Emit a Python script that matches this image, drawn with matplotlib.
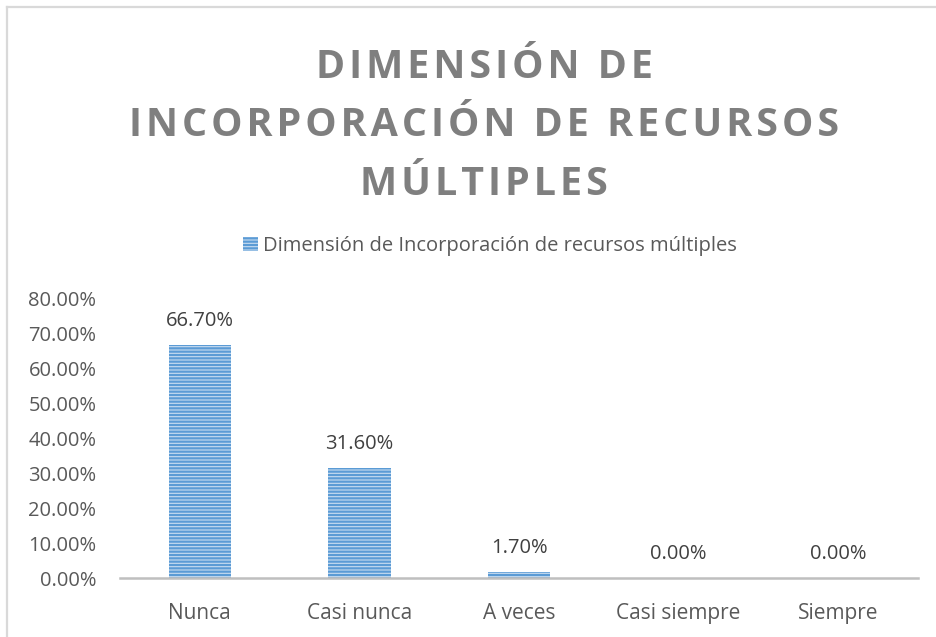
import matplotlib.pyplot as plt
from matplotlib.patches import Patch
from matplotlib.lines import Line2D

plt.rcParams['font.family'] = ['Open Sans', 'DejaVu Sans']
plt.rcParams['hatch.linewidth'] = 1.6

categorias = ["Nunca", "Casi nunca", "A veces", "Casi siempre", "Siempre"]
porcentajes = [66.7, 31.6, 1.7, 0.0, 0.0]
yticks = [0, 10, 20, 30, 40, 50, 60, 70, 80]
titulo = ["DIMENSIÓN DE", "INCORPORACIÓN DE RECURSOS", "MÚLTIPLES"]
serie = "Dimensión de Incorporación de recursos múltiples"

azul = "#5B9BD5"
relleno = "#C9DDF1"
gris_txt = "#595959"

fig = plt.figure(figsize=(9.36, 6.37), dpi=100)
ax = fig.add_axes([120 / 936, 1 - 578 / 637, 798 / 936, 279 / 637])

x = range(len(categorias))
bars = ax.bar(x, porcentajes, width=0.39, color=relleno, edgecolor=azul,
              linewidth=0, hatch="-----")
ax.bar_label(bars, labels=[f"{v:.2f}%" for v in porcentajes], padding=10,
             fontsize=14.5, color="#404040")

ax.set_xlim(-0.5, len(categorias) - 0.5)
ax.set_ylim(0, 80)
ax.set_yticks(yticks)
ax.set_yticklabels([f"{v:.2f}%" for v in yticks])
ax.set_xticks(list(x))
ax.set_xticklabels(categorias, fontsize=15)
ax.tick_params(axis="both", length=0, colors=gris_txt)
ax.tick_params(axis="y", pad=17, labelsize=14.5)
ax.tick_params(axis="x", pad=18)
for s in ["top", "right", "left"]:
    ax.spines[s].set_visible(False)
ax.spines["bottom"].set_color("#BFBFBF")
ax.spines["bottom"].set_linewidth(1.8)

# borde del area del grafico (solo arriba e izquierda visibles)
fig.add_artist(Line2D([7 / 936, 7 / 936], [0, 1 - 7 / 637], color="#D9D9D9",
                      lw=1.6, transform=fig.transFigure))
fig.add_artist(Line2D([7 / 936, 1], [1 - 7 / 637, 1 - 7 / 637], color="#D9D9D9",
                      lw=1.6, transform=fig.transFigure))

# titulo con espaciado entre letras
texto = "\n".join("\u200a".join(l) for l in titulo)
t = fig.text(484 / 936, 1 - 126 / 637, texto, ha="center", va="center",
             multialignment="center", fontsize=30, fontweight="bold",
             color="#7F7F7F", linespacing=1.64)
fig.canvas.draw()
w = t.get_window_extent().width
t.set_fontsize(30 * 708 / w)

handle = Patch(facecolor=relleno, edgecolor=azul, linewidth=0, hatch="-----")
fig.legend([handle], [serie], loc="center", bbox_to_anchor=(490 / 936, 1 - 246 / 637),
           frameon=False, fontsize=14.5, handlelength=0.7, handleheight=0.7,
           handletextpad=0.25, labelcolor=gris_txt)

fig.savefig("out.png", dpi=100)
